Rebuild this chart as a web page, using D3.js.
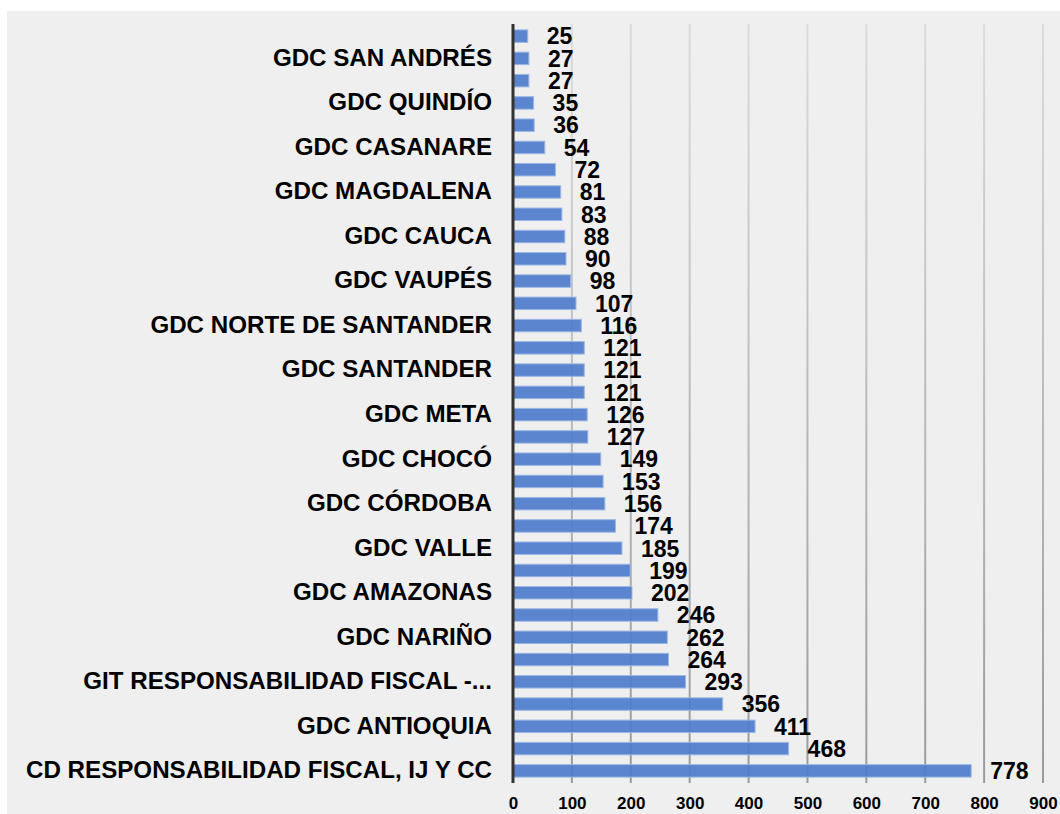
<!DOCTYPE html>
<html>
<head>
<meta charset="utf-8">
<script src="https://cdn.jsdelivr.net/npm/d3@7"></script>
<style>
  body { margin: 0; background: #fff; font-family: "Liberation Sans", Arial, sans-serif; }
</style>
</head>
<body>
<div id="chart"></div>
<script>
// labels shown on the axis (every second category carries a visible label)
var labels = [
  "", "GDC SAN ANDRÉS", "", "GDC QUINDÍO", "", "GDC CASANARE", "", "GDC MAGDALENA",
  "", "GDC CAUCA", "", "GDC VAUPÉS", "", "GDC NORTE DE SANTANDER", "", "GDC SANTANDER",
  "", "GDC META", "", "GDC CHOCÓ", "", "GDC CÓRDOBA", "", "GDC VALLE",
  "", "GDC  AMAZONAS", "", "GDC NARIÑO", "", "GIT RESPONSABILIDAD FISCAL -...", "", "GDC ANTIOQUIA",
  "", "CD RESPONSABILIDAD FISCAL, IJ Y CC"
];
var values = [
  25, 27, 27, 35, 36, 54, 72, 81, 83, 88, 90, 98, 107, 116, 121, 121, 121, 126,
  127, 149, 153, 156, 174, 185, 199, 202, 246, 262, 264, 293, 356, 411, 468, 778
];
var ticks = [0, 100, 200, 300, 400, 500, 600, 700, 800, 900];

function plot() {
  var width = 1060, height = 814;

  var svg = d3.select("#chart").append("svg")
      .attr("width", width)
      .attr("height", height);

  // panel
  svg.append("rect")
      .attr("x", 7).attr("y", 11)
      .attr("width", width - 7).attr("height", height - 11)
      .attr("fill", "#efefef");

  var defs = svg.append("defs");
  var grad = defs.append("linearGradient")
      .attr("id", "gridgrad")
      .attr("gradientUnits", "userSpaceOnUse")
      .attr("x1", 0).attr("y1", 24).attr("x2", 0).attr("y2", 783);
  grad.append("stop").attr("offset", "0%").attr("stop-color", "#dcdcdc");
  grad.append("stop").attr("offset", "100%").attr("stop-color", "#9a9a9a");

  var x = d3.scaleLinear().domain([0, 900]).range([513, 1043]);
  var y = d3.scaleBand()
      .domain(d3.range(values.length))
      .range([25, 782])
      .paddingInner(0.44)
      .paddingOuter(0.22);

  // grid
  svg.append("g").selectAll("line")
    .data(ticks.slice(1))
    .enter().append("line")
      .attr("x1", function(d) { return x(d); })
      .attr("x2", function(d) { return x(d); })
      .attr("y1", 24).attr("y2", 783)
      .attr("stroke", "url(#gridgrad)")
      .attr("stroke-width", 2);

  // bars
  svg.append("g").selectAll("rect")
    .data(values)
    .enter().append("rect")
      .attr("x", x(0))
      .attr("y", function(d, i) { return y(i); })
      .attr("width", function(d) { return x(d) - x(0); })
      .attr("height", y.bandwidth())
      .attr("fill", "#4f7ccc")
      .attr("fill-opacity", 0.92)
      .attr("stroke", "#9bb7e4")
      .attr("stroke-width", 1);

  // value labels
  svg.append("g").selectAll("text")
    .data(values)
    .enter().append("text")
      .attr("x", function(d) { return x(d) + 19; })
      .attr("y", function(d, i) { return y(i) + y.bandwidth() / 2; })
      .attr("dy", "0.36em")
      .attr("font-size", 23)
      .attr("font-weight", "bold")
      .attr("fill", "#000")
      .text(function(d) { return d; });

  // category axis
  var yAxis = d3.axisLeft(y)
      .tickSize(0)
      .tickPadding(21)
      .tickFormat(function(i) { return labels[i] || ""; });
  var gy = svg.append("g")
      .attr("transform", "translate(" + x(0) + ",0)")
      .call(yAxis);
  gy.select(".domain").remove();
  gy.selectAll("text")
      .attr("font-size", 23)
      .attr("font-weight", "bold")
      .attr("font-family", "Liberation Sans, Arial, sans-serif")
      .attr("fill", "#000")
      .attr("x", -21 / 1.05)
      .attr("transform", "scale(1.05,1)");

  svg.append("line")
      .attr("x1", x(0)).attr("x2", x(0))
      .attr("y1", 24).attr("y2", 783)
      .attr("stroke", "#333")
      .attr("stroke-width", 3);

  // value axis
  var xAxis = d3.axisBottom(x)
      .tickValues(ticks)
      .tickSize(0)
      .tickPadding(14);
  var gx = svg.append("g")
      .attr("transform", "translate(0,783)")
      .call(xAxis);
  gx.select(".domain").remove();
  gx.selectAll("text")
      .attr("font-size", 17)
      .attr("font-weight", "bold")
      .attr("font-family", "Liberation Sans, Arial, sans-serif")
      .attr("fill", "#000");
}

plot();
</script>
</body>
</html>
